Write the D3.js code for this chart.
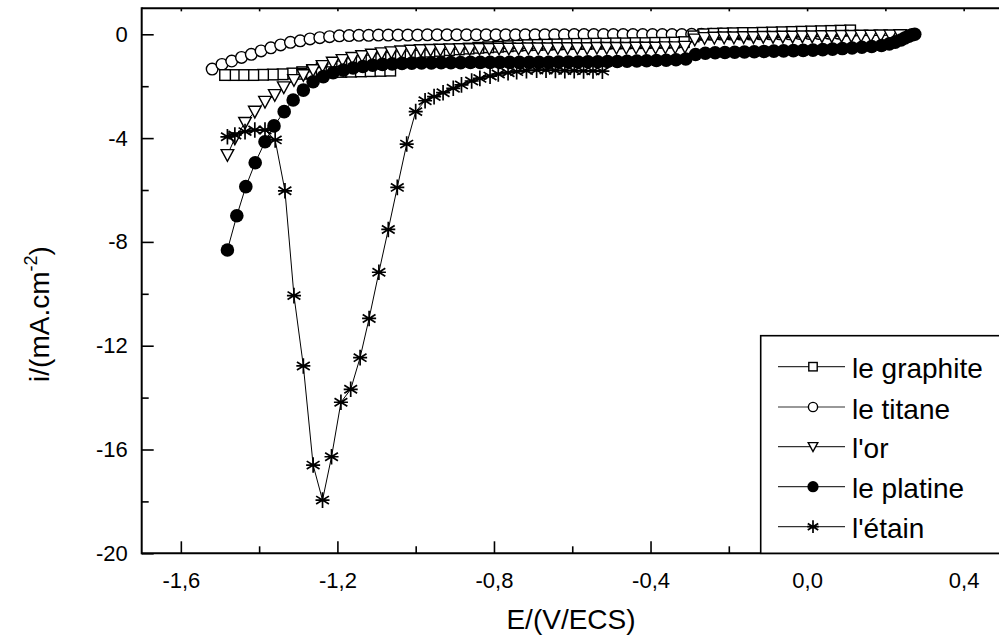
<!DOCTYPE html>
<html>
<head>
<meta charset="utf-8">
<script src="https://cdn.jsdelivr.net/npm/d3@7"></script>
<style>
  html, body { margin: 0; padding: 0; background: #fff; }
  svg { display: block; font-family: "Liberation Sans", Arial, sans-serif; }
</style>
</head>
<body>
<svg id="chart" width="999" height="637"></svg>
<script>
// Voltammetric curves [E (V/ECS), i (mA.cm-2)] for each electrode material
const graphite = [
  [0.110,0.15],[0.085,0.14],[0.060,0.13],[0.035,0.12],[0.010,0.11],[-0.015,0.10],[-0.040,0.09],
  [-0.065,0.08],[-0.090,0.07],[-0.115,0.06],[-0.140,0.05],[-0.165,0.05],[-0.190,0.04],[-0.215,0.03],
  [-0.240,0.02],[-0.265,0.00],[-0.290,-0.08],[-0.315,-0.30],[-0.340,-0.32],[-0.365,-0.33],[-0.390,-0.33],
  [-0.415,-0.34],[-0.440,-0.34],[-0.465,-0.35],[-0.490,-0.35],[-0.515,-0.36],[-0.540,-0.36],[-0.565,-0.37],
  [-0.590,-0.37],[-0.615,-0.38],[-0.640,-0.39],[-0.665,-0.40],[-0.690,-0.41],[-0.715,-0.42],[-0.740,-0.44],
  [-0.765,-0.46],[-0.790,-0.48],[-0.815,-0.50],[-0.840,-0.52],[-0.865,-0.55],[-0.890,-0.58],[-0.915,-0.61],
  [-0.940,-0.64],[-0.965,-0.67],[-0.990,-0.71],[-1.015,-0.75],[-1.040,-0.79],[-1.065,-0.84],[-1.090,-0.89],
  [-1.115,-0.95],[-1.140,-1.01],[-1.165,-1.08],[-1.190,-1.15],[-1.215,-1.23],[-1.240,-1.31],[-1.265,-1.39],
  [-1.290,-1.46],[-1.315,-1.51],[-1.340,-1.54],[-1.365,-1.55],[-1.390,-1.56],[-1.415,-1.57],[-1.440,-1.57],
  [-1.465,-1.57],[-1.487,-1.57],
  [-1.290,-1.52],[-1.265,-1.50],[-1.240,-1.48],[-1.215,-1.46],[-1.190,-1.45],[-1.165,-1.44],[-1.140,-1.43],
  [-1.115,-1.42],[-1.090,-1.41],[-1.065,-1.40]
];

const titane = [
  [-1.520,-1.34],[-1.495,-1.16],[-1.470,-1.03],[-1.445,-0.89],[-1.420,-0.77],[-1.395,-0.64],[-1.370,-0.52],
  [-1.345,-0.41],[-1.320,-0.31],[-1.295,-0.25],[-1.270,-0.18],[-1.245,-0.13],[-1.220,-0.09],[-1.195,-0.06],
  [-1.170,-0.05],[-1.145,-0.04],[-1.120,-0.04],[-1.095,-0.03],[-1.070,-0.03],[-1.045,-0.03],[-1.020,-0.03],
  [-0.995,-0.03],[-0.970,-0.02],[-0.945,-0.02],[-0.920,-0.02],[-0.895,-0.02],[-0.870,-0.02],[-0.845,-0.02],
  [-0.820,-0.02],[-0.795,-0.02],[-0.770,-0.02],[-0.745,-0.02],[-0.720,-0.02],[-0.695,-0.02],[-0.670,-0.02],
  [-0.645,-0.02],[-0.620,-0.02],[-0.595,-0.01],[-0.570,-0.01],[-0.545,-0.01],[-0.520,-0.01],[-0.495,-0.01],
  [-0.470,-0.01],[-0.445,-0.01],[-0.420,-0.01],[-0.395,-0.01],[-0.370,-0.01],[-0.345,-0.01],[-0.320,-0.01],
  [-0.295,0.00],[-0.270,0.00],[-0.245,0.00],[-0.220,0.01],[-0.195,0.01],[-0.170,0.01],[-0.145,0.01],
  [-0.120,0.02],[-0.095,0.02],[-0.070,0.02],[-0.045,0.02],[-0.020,0.03],[0.005,0.03],[0.030,0.03],
  [0.055,0.04],[0.080,0.04]
];

const or = [
  [-1.481,-4.65],[-1.462,-4.01],[-1.436,-3.41],[-1.411,-2.98],[-1.385,-2.60],[-1.360,-2.34],[-1.337,-2.04],
  [-1.311,-1.76],[-1.287,-1.57],[-1.262,-1.38],[-1.238,-1.22],[-1.212,-1.09],[-1.187,-0.99],[-1.162,-0.91],
  [-1.137,-0.84],[-1.112,-0.78],[-1.087,-0.73],[-1.062,-0.69],[-1.037,-0.66],[-1.012,-0.63],[-0.987,-0.61],
  [-0.962,-0.60],[-0.937,-0.59],[-0.912,-0.58],[-0.887,-0.57],[-0.862,-0.57],[-0.837,-0.56],[-0.812,-0.56],
  [-0.787,-0.55],[-0.762,-0.55],[-0.737,-0.55],[-0.712,-0.54],[-0.687,-0.54],[-0.662,-0.54],[-0.637,-0.53],
  [-0.612,-0.53],[-0.587,-0.53],[-0.562,-0.53],[-0.537,-0.52],[-0.512,-0.52],[-0.487,-0.52],[-0.462,-0.52],
  [-0.437,-0.51],[-0.412,-0.51],[-0.387,-0.51],[-0.362,-0.50],[-0.337,-0.50],[-0.312,-0.48],[-0.287,-0.20],
  [-0.262,-0.14],[-0.237,-0.13],[-0.212,-0.12],[-0.187,-0.12],[-0.162,-0.11],[-0.137,-0.11],[-0.112,-0.10],
  [-0.087,-0.10],[-0.062,-0.09],[-0.037,-0.09],[-0.012,-0.08],[0.013,-0.08],[0.038,-0.07],[0.063,-0.07],
  [0.088,-0.06],[0.113,-0.06],[0.138,-0.05],[0.163,-0.05],[0.188,-0.04],[0.213,-0.04],[0.238,-0.03]
];

const platine = [
  [-1.481,-8.31],[-1.457,-6.99],[-1.434,-5.87],[-1.410,-4.95],[-1.385,-4.14],[-1.362,-3.53],[-1.336,-2.98],
  [-1.313,-2.53],[-1.287,-2.15],[-1.262,-1.83],[-1.236,-1.63],[-1.211,-1.48],[-1.185,-1.38],[-1.160,-1.30],
  [-1.135,-1.24],[-1.110,-1.19],[-1.085,-1.16],[-1.060,-1.14],[-1.035,-1.12],[-1.010,-1.11],[-0.985,-1.10],
  [-0.960,-1.10],[-0.935,-1.09],[-0.910,-1.09],[-0.885,-1.09],[-0.860,-1.08],[-0.835,-1.08],[-0.810,-1.08],
  [-0.785,-1.08],[-0.760,-1.08],[-0.735,-1.08],[-0.710,-1.08],[-0.685,-1.08],[-0.660,-1.08],[-0.635,-1.07],
  [-0.610,-1.07],[-0.585,-1.07],[-0.560,-1.06],[-0.535,-1.06],[-0.510,-1.05],[-0.485,-1.05],[-0.460,-1.04],
  [-0.435,-1.03],[-0.410,-1.02],[-0.385,-1.01],[-0.360,-1.00],[-0.335,-0.98],[-0.310,-0.95],[-0.285,-0.78],
  [-0.260,-0.73],[-0.235,-0.71],[-0.210,-0.70],[-0.185,-0.69],[-0.160,-0.68],[-0.135,-0.67],[-0.110,-0.66],
  [-0.085,-0.65],[-0.060,-0.64],[-0.035,-0.63],[-0.010,-0.62],[0.015,-0.61],[0.040,-0.59],[0.065,-0.57],
  [0.090,-0.55],[0.115,-0.53],[0.140,-0.50],[0.165,-0.47],[0.190,-0.43],[0.210,-0.37],[0.225,-0.30],
  [0.240,-0.22],[0.250,-0.14],[0.260,-0.07],[0.268,-0.02],[0.275,0.00]
];

const etain = [
  [-1.481,-3.95],[-1.462,-3.88],[-1.436,-3.75],[-1.411,-3.69],[-1.385,-3.69],[-1.359,-4.07],[-1.334,-6.03],
  [-1.311,-10.07],[-1.287,-12.78],[-1.262,-16.60],[-1.238,-17.95],[-1.215,-16.28],[-1.191,-14.18],
  [-1.166,-13.68],[-1.142,-12.46],[-1.119,-10.95],[-1.094,-9.17],[-1.070,-7.52],[-1.047,-5.90],
  [-1.023,-4.23],[-1.000,-2.98],[-0.976,-2.56],[-0.953,-2.40],[-0.930,-2.25],[-0.904,-2.08],[-0.883,-1.95],
  [-0.857,-1.80],[-0.836,-1.70],[-0.810,-1.61],[-0.789,-1.53],[-0.764,-1.48],[-0.742,-1.44],[-0.717,-1.40],
  [-0.691,-1.38],[-0.667,-1.38],[-0.643,-1.39],[-0.619,-1.40],[-0.595,-1.40],[-0.571,-1.41],[-0.547,-1.41],
  [-0.523,-1.42]
];

const seriesNames = ["le graphite", "le titane", "l'or", "le platine", "l'étain"];
const xMajorTicks = [-1.6, -1.2, -0.8, -0.4, 0.0, 0.4];
const xMinorTicks = [-1.4, -1.0, -0.6, -0.2, 0.2];
const yMajorTicks = [0, -4, -8, -12, -16, -20];
const yMinorTicks = [-2, -6, -10, -14, -18];
const xTitle = "E/(V/ECS)";

const svg = d3.select("#chart");
const pLeft = 141.7, pRight = 1002.8, pTop = 8.35, pBottom = 553.3;

const x = d3.scaleLinear().domain([-1.7, 0.5]).range([pLeft, pRight]);
const y = d3.scaleLinear().domain([-20, 1]).range([pBottom, pTop]);

const fmtX = v => (Math.abs(v) < 1e-9 ? "0,0" : v.toFixed(1).replace(".", ","));
const fmtY = v => String(v);

// ---- axes ----
const axisW = 2;
const gx = svg.append("g").attr("transform", `translate(0,${pBottom})`)
  .call(d3.axisBottom(x).tickValues(xMajorTicks).tickSizeInner(-12).tickSizeOuter(0)
        .tickPadding(19).tickFormat(fmtX));
gx.append("g").call(d3.axisBottom(x).tickValues(xMinorTicks).tickSizeInner(-7).tickSizeOuter(0).tickFormat(""));

const gy = svg.append("g").attr("transform", `translate(${pLeft},0)`)
  .call(d3.axisLeft(y).tickValues(yMajorTicks).tickSizeInner(-12).tickSizeOuter(0)
        .tickPadding(14).tickFormat(fmtY));
gy.append("g").call(d3.axisLeft(y).tickValues(yMinorTicks).tickSizeInner(-7).tickSizeOuter(0).tickFormat(""));

// top frame edge with small ticks
const gt = svg.append("g").attr("transform", `translate(0,${pTop})`)
  .call(d3.axisTop(x).tickValues(xMajorTicks.concat(xMinorTicks)).tickSizeInner(-3).tickSizeOuter(0).tickFormat(""));

[gx, gy, gt].forEach(g => {
  g.selectAll(".domain").remove();
  g.selectAll("line").attr("stroke", "#000").attr("stroke-width", 1.6);
  g.selectAll("text").attr("fill", "#000").attr("font-size", 22)
    .attr("font-family", "'Liberation Sans', Arial, sans-serif");
});

svg.append("line").attr("x1", pLeft).attr("x2", pRight).attr("y1", pBottom).attr("y2", pBottom)
  .attr("stroke", "#000").attr("stroke-width", axisW);
svg.append("line").attr("x1", pLeft).attr("x2", pRight).attr("y1", pTop).attr("y2", pTop)
  .attr("stroke", "#000").attr("stroke-width", axisW);
svg.append("line").attr("x1", pLeft).attr("x2", pLeft).attr("y1", pTop - 1).attr("y2", pBottom + 1)
  .attr("stroke", "#000").attr("stroke-width", axisW);

// axis titles
svg.append("text").attr("x", 571).attr("y", 629).attr("text-anchor", "middle")
  .attr("font-size", 28).attr("fill", "#000").text(xTitle);

const yt = svg.append("text").attr("transform", "translate(49,314) rotate(-90)")
  .attr("text-anchor", "middle").attr("font-size", 28).attr("fill", "#000");
yt.append("tspan").text("i/(mA.cm");
yt.append("tspan").attr("font-size", 18).attr("dy", -12).text("-2");
yt.append("tspan").attr("dy", 12).text(")");

// ---- marker shapes ----
function drawMarker(g, kind, cx, cy, s) {
  if (kind === "square") {
    g.append("rect").attr("x", cx - s).attr("y", cy - s).attr("width", 2 * s).attr("height", 2 * s)
      .attr("fill", "#fff").attr("stroke", "#000").attr("stroke-width", 1.4);
  } else if (kind === "circle") {
    g.append("circle").attr("cx", cx).attr("cy", cy).attr("r", s)
      .attr("fill", "#fff").attr("stroke", "#000").attr("stroke-width", 1.4);
  } else if (kind === "triangle") {
    const h = s * 1.0;
    g.append("path").attr("d", `M${cx - s},${cy - h * 0.85}L${cx + s},${cy - h * 0.85}L${cx},${cy + h}Z`)
      .attr("fill", "#fff").attr("stroke", "#000").attr("stroke-width", 1.4).attr("stroke-linejoin", "miter");
  } else if (kind === "dot") {
    g.append("circle").attr("cx", cx).attr("cy", cy).attr("r", s).attr("fill", "#000");
  } else if (kind === "star") {
    const d = s * 0.82;
    g.append("path")
      .attr("d", `M${cx},${cy - s}L${cx},${cy + s}M${cx - d},${cy - d * 0.62}L${cx + d},${cy + d * 0.62}` +
                 `M${cx - d},${cy + d * 0.62}L${cx + d},${cy - d * 0.62}M${cx - s * 0.9},${cy}L${cx + s * 0.9},${cy}`)
      .attr("stroke", "#000").attr("stroke-width", 1.7).attr("fill", "none");
  }
}

const series = [
  { name: seriesNames[1], data: titane,   kind: "circle",   size: 5.8, legendSize: 4.6 },
  { name: seriesNames[0], data: graphite, kind: "square",   size: 5.3, legendSize: 4.2 },
  { name: seriesNames[2], data: or,       kind: "triangle", size: 6.3, legendSize: 4.8 },
  { name: seriesNames[3], data: platine,  kind: "dot",      size: 6.8, legendSize: 5.6 },
  { name: seriesNames[4], data: etain,    kind: "star",     size: 7.8, legendSize: 6.4 }
];

svg.append("clipPath").attr("id", "plotclip").append("rect")
  .attr("x", pLeft).attr("y", pTop).attr("width", pRight - pLeft).attr("height", pBottom - pTop);

const plot = svg.append("g").attr("clip-path", "url(#plotclip)");
const line = d3.line().x(d => x(d[0])).y(d => y(d[1]));

series.forEach(s => {
  const g = plot.append("g");
  g.append("path").datum(s.data).attr("d", line)
    .attr("fill", "none").attr("stroke", "#000").attr("stroke-width", 1);
  s.data.forEach(d => drawMarker(g, s.kind, x(d[0]), y(d[1]), s.size));
});

// ---- legend ----
const lg = svg.append("g");
const legTop = 335.7, legLeft = 760.7;
lg.append("rect").attr("x", legLeft).attr("y", legTop).attr("width", 260).attr("height", pBottom - legTop)
  .attr("fill", "#fff").attr("stroke", "#000").attr("stroke-width", 1.6);
const legendOrder = [1, 0, 2, 3, 4];
const rowY = [366.7, 407, 446.7, 486.7, 526.7];
legendOrder.forEach((si, k) => {
  const s = series[si];
  const cy = rowY[k];
  lg.append("line").attr("x1", 778).attr("x2", 845).attr("y1", cy).attr("y2", cy)
    .attr("stroke", "#333").attr("stroke-width", 1.2);
  drawMarker(lg, s.kind, 813, cy, s.legendSize);
  lg.append("text").attr("x", 852).attr("y", cy + 11.6).attr("font-size", 28).attr("fill", "#000").text(s.name);
});
</script>
</body>
</html>
